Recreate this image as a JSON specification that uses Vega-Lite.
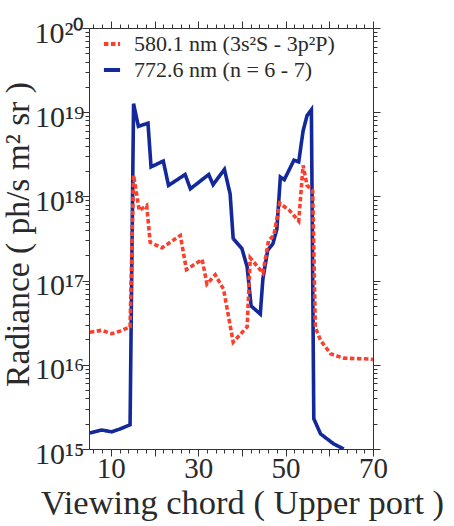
{
  "$schema": "https://vega.github.io/schema/vega-lite/v6.json",
  "width": 284,
  "height": 421,
  "autosize": {"type": "none"},
  "padding": {"left": 89, "top": 28, "right": 81, "bottom": 77},
  "background": "white",
  "data": {
    "values": [
      {"line": "772.6 nm (n = 6 - 7)", "chord": 5.2, "radiance": 1.55e15},
      {"line": "772.6 nm (n = 6 - 7)", "chord": 7.9, "radiance": 1.68e15},
      {"line": "772.6 nm (n = 6 - 7)", "chord": 10.2, "radiance": 1.6e15},
      {"line": "772.6 nm (n = 6 - 7)", "chord": 12.1, "radiance": 1.73e15},
      {"line": "772.6 nm (n = 6 - 7)", "chord": 14.4, "radiance": 1.94e15},
      {"line": "772.6 nm (n = 6 - 7)", "chord": 15.2, "radiance": 1.26e19},
      {"line": "772.6 nm (n = 6 - 7)", "chord": 16.3, "radiance": 6.8e18},
      {"line": "772.6 nm (n = 6 - 7)", "chord": 18.5, "radiance": 7.4e18},
      {"line": "772.6 nm (n = 6 - 7)", "chord": 19.2, "radiance": 2.24e18},
      {"line": "772.6 nm (n = 6 - 7)", "chord": 22.0, "radiance": 2.63e18},
      {"line": "772.6 nm (n = 6 - 7)", "chord": 23.2, "radiance": 1.35e18},
      {"line": "772.6 nm (n = 6 - 7)", "chord": 27.0, "radiance": 1.82e18},
      {"line": "772.6 nm (n = 6 - 7)", "chord": 28.2, "radiance": 1.23e18},
      {"line": "772.6 nm (n = 6 - 7)", "chord": 32.4, "radiance": 1.82e18},
      {"line": "772.6 nm (n = 6 - 7)", "chord": 33.4, "radiance": 1.38e18},
      {"line": "772.6 nm (n = 6 - 7)", "chord": 36.0, "radiance": 2.09e18},
      {"line": "772.6 nm (n = 6 - 7)", "chord": 37.3, "radiance": 1.07e18},
      {"line": "772.6 nm (n = 6 - 7)", "chord": 38.0, "radiance": 3.16e17},
      {"line": "772.6 nm (n = 6 - 7)", "chord": 40.0, "radiance": 2.4e17},
      {"line": "772.6 nm (n = 6 - 7)", "chord": 41.2, "radiance": 1.45e17},
      {"line": "772.6 nm (n = 6 - 7)", "chord": 42.1, "radiance": 5.0e16},
      {"line": "772.6 nm (n = 6 - 7)", "chord": 44.2, "radiance": 4.0e16},
      {"line": "772.6 nm (n = 6 - 7)", "chord": 44.8, "radiance": 1.05e17},
      {"line": "772.6 nm (n = 6 - 7)", "chord": 45.9, "radiance": 2.29e17},
      {"line": "772.6 nm (n = 6 - 7)", "chord": 47.1, "radiance": 2.75e17},
      {"line": "772.6 nm (n = 6 - 7)", "chord": 48.0, "radiance": 4.1e17},
      {"line": "772.6 nm (n = 6 - 7)", "chord": 48.8, "radiance": 1.7e18},
      {"line": "772.6 nm (n = 6 - 7)", "chord": 49.7, "radiance": 1.58e18},
      {"line": "772.6 nm (n = 6 - 7)", "chord": 51.9, "radiance": 2.69e18},
      {"line": "772.6 nm (n = 6 - 7)", "chord": 53.0, "radiance": 2.57e18},
      {"line": "772.6 nm (n = 6 - 7)", "chord": 54.0, "radiance": 6.0e18},
      {"line": "772.6 nm (n = 6 - 7)", "chord": 54.9, "radiance": 9.1e18},
      {"line": "772.6 nm (n = 6 - 7)", "chord": 55.9, "radiance": 1.07e19},
      {"line": "772.6 nm (n = 6 - 7)", "chord": 56.45, "radiance": 2.29e15},
      {"line": "772.6 nm (n = 6 - 7)", "chord": 58.0, "radiance": 1.51e15},
      {"line": "772.6 nm (n = 6 - 7)", "chord": 61.0, "radiance": 1.15e15},
      {"line": "772.6 nm (n = 6 - 7)", "chord": 63.3, "radiance": 1.0e15},
      {"line": "580.1 nm (3s²S - 3p²P)", "chord": 5.2, "radiance": 2.43e16},
      {"line": "580.1 nm (3s²S - 3p²P)", "chord": 7.9, "radiance": 2.57e16},
      {"line": "580.1 nm (3s²S - 3p²P)", "chord": 10.2, "radiance": 2.34e16},
      {"line": "580.1 nm (3s²S - 3p²P)", "chord": 12.1, "radiance": 2.51e16},
      {"line": "580.1 nm (3s²S - 3p²P)", "chord": 14.4, "radiance": 2.82e16},
      {"line": "580.1 nm (3s²S - 3p²P)", "chord": 15.2, "radiance": 1.78e18},
      {"line": "580.1 nm (3s²S - 3p²P)", "chord": 15.9, "radiance": 1.07e18},
      {"line": "580.1 nm (3s²S - 3p²P)", "chord": 16.5, "radiance": 6.8e17},
      {"line": "580.1 nm (3s²S - 3p²P)", "chord": 18.2, "radiance": 7.8e17},
      {"line": "580.1 nm (3s²S - 3p²P)", "chord": 19.0, "radiance": 2.85e17},
      {"line": "580.1 nm (3s²S - 3p²P)", "chord": 21.7, "radiance": 2.45e17},
      {"line": "580.1 nm (3s²S - 3p²P)", "chord": 25.9, "radiance": 3.43e17},
      {"line": "580.1 nm (3s²S - 3p²P)", "chord": 27.3, "radiance": 1.35e17},
      {"line": "580.1 nm (3s²S - 3p²P)", "chord": 30.9, "radiance": 1.78e17},
      {"line": "580.1 nm (3s²S - 3p²P)", "chord": 32.0, "radiance": 9.1e16},
      {"line": "580.1 nm (3s²S - 3p²P)", "chord": 33.9, "radiance": 1.17e17},
      {"line": "580.1 nm (3s²S - 3p²P)", "chord": 35.8, "radiance": 7.9e16},
      {"line": "580.1 nm (3s²S - 3p²P)", "chord": 38.0, "radiance": 1.86e16},
      {"line": "580.1 nm (3s²S - 3p²P)", "chord": 41.2, "radiance": 2.82e16},
      {"line": "580.1 nm (3s²S - 3p²P)", "chord": 41.9, "radiance": 1.86e17},
      {"line": "580.1 nm (3s²S - 3p²P)", "chord": 44.8, "radiance": 1.23e17},
      {"line": "580.1 nm (3s²S - 3p²P)", "chord": 46.1, "radiance": 3.0e17},
      {"line": "580.1 nm (3s²S - 3p²P)", "chord": 47.3, "radiance": 3.43e17},
      {"line": "580.1 nm (3s²S - 3p²P)", "chord": 48.65, "radiance": 8.3e17},
      {"line": "580.1 nm (3s²S - 3p²P)", "chord": 50.9, "radiance": 6.8e17},
      {"line": "580.1 nm (3s²S - 3p²P)", "chord": 53.0, "radiance": 5.1e17},
      {"line": "580.1 nm (3s²S - 3p²P)", "chord": 54.0, "radiance": 2.34e18},
      {"line": "580.1 nm (3s²S - 3p²P)", "chord": 54.9, "radiance": 1.35e18},
      {"line": "580.1 nm (3s²S - 3p²P)", "chord": 56.2, "radiance": 1.17e18},
      {"line": "580.1 nm (3s²S - 3p²P)", "chord": 56.8, "radiance": 2.79e16},
      {"line": "580.1 nm (3s²S - 3p²P)", "chord": 58.0, "radiance": 1.95e16},
      {"line": "580.1 nm (3s²S - 3p²P)", "chord": 60.3, "radiance": 1.35e16},
      {"line": "580.1 nm (3s²S - 3p²P)", "chord": 63.3, "radiance": 1.2e16},
      {"line": "580.1 nm (3s²S - 3p²P)", "chord": 69.5, "radiance": 1.17e16},
      {"line": "580.1 nm (3s²S - 3p²P)", "chord": 70.0, "radiance": 1.15e16}
    ]
  },
  "layer": [
    {
      "transform": [{"filter": "datum.line === '772.6 nm (n = 6 - 7)'"}],
      "mark": {"type": "line", "strokeWidth": 3.6, "clip": true},
      "encoding": {
        "x": {
          "field": "chord", "type": "quantitative",
          "scale": {"domain": [5, 70], "nice": false, "zero": false},
          "axis": {
            "orient": "top", "title": null, "labels": false, "grid": false,
            "values": [6, 8, 10, 12, 14, 16, 18, 20, 22, 24, 26, 28, 30, 32, 34, 36, 38, 40, 42, 44, 46, 48, 50, 52, 54, 56, 58, 60, 62, 64, 66, 68, 70],
            "tickSize": {"condition": {"test": "datum.value % 10 === 0", "value": 7}, "value": 4}
          }
        },
        "y": {
          "field": "radiance", "type": "quantitative",
          "scale": {"type": "log", "domain": [1e15, 1e20], "nice": false},
          "axis": {
            "orient": "right", "title": null, "labels": false, "grid": false,
            "values": [1e15, 2e15, 3e15, 4e15, 5e15, 6e15, 7e15, 8e15, 9e15, 1e16, 2e16, 3e16, 4e16, 5e16, 6e16, 7e16, 8e16, 9e16, 1e17, 2e17, 3e17, 4e17, 5e17, 6e17, 7e17, 8e17, 9e17, 1e18, 2e18, 3e18, 4e18, 5e18, 6e18, 7e18, 8e18, 9e18, 1e19, 2e19, 3e19, 4e19, 5e19, 6e19, 7e19, 8e19, 9e19, 1e20],
            "tickSize": {"condition": {"test": "abs(log(datum.value)/LN10 - round(log(datum.value)/LN10)) < 0.001", "value": 7}, "value": 4}
          }
        },
        "color": {
          "field": "line", "type": "nominal",
          "scale": {"domain": ["580.1 nm (3s²S - 3p²P)", "772.6 nm (n = 6 - 7)"], "range": ["#f8402e", "#13289a"]},
          "legend": {"title": null}
        },
        "strokeDash": {
          "field": "line", "type": "nominal",
          "scale": {"domain": ["580.1 nm (3s²S - 3p²P)", "772.6 nm (n = 6 - 7)"], "range": [[4.5, 2.5], [1, 0]]},
          "legend": {"title": null}
        }
      }
    },
    {
      "transform": [{"filter": "datum.line === '580.1 nm (3s²S - 3p²P)'"}],
      "mark": {"type": "line", "strokeWidth": 3.6, "clip": true},
      "encoding": {
        "x": {
          "field": "chord", "type": "quantitative",
          "scale": {"domain": [5, 70], "nice": false, "zero": false},
          "axis": {
            "orient": "bottom", "grid": false,
            "title": "Viewing chord ( Upper port )",
            "titleFont": "Liberation Serif", "titleFontSize": 34.5, "titleFontWeight": "normal",
            "labelFont": "Liberation Serif", "labelFontSize": 29,
            "titleX": 153, "titleY": 64, "titleAnchor": null, "titleAlign": "center", "titleBaseline": "alphabetic",
            "values": [6, 8, 10, 12, 14, 16, 18, 20, 22, 24, 26, 28, 30, 32, 34, 36, 38, 40, 42, 44, 46, 48, 50, 52, 54, 56, 58, 60, 62, 64, 66, 68, 70],
            "labelExpr": "(datum.value === 10 || datum.value === 30 || datum.value === 50 || datum.value === 70) ? datum.label : ''",
            "labelPadding": -2,
            "tickSize": {"condition": {"test": "datum.value % 10 === 0", "value": 7}, "value": 4}
          }
        },
        "y": {
          "field": "radiance", "type": "quantitative",
          "scale": {"type": "log", "domain": [1e15, 1e20], "nice": false},
          "axis": {
            "orient": "left", "grid": false,
            "title": "Radiance ( ph/s m² sr )",
            "titleFont": "Liberation Serif", "titleFontSize": 33.5, "titleFontWeight": "normal",
            "labelFont": "Liberation Serif", "labelFontSize": 30,
            "titleX": -71, "titleY": 206, "titleAngle": -90, "titleAlign": "center", "titleBaseline": "middle",
            "values": [1e15, 2e15, 3e15, 4e15, 5e15, 6e15, 7e15, 8e15, 9e15, 1e16, 2e16, 3e16, 4e16, 5e16, 6e16, 7e16, 8e16, 9e16, 1e17, 2e17, 3e17, 4e17, 5e17, 6e17, 7e17, 8e17, 9e17, 1e18, 2e18, 3e18, 4e18, 5e18, 6e18, 7e18, 8e18, 9e18, 1e19, 2e19, 3e19, 4e19, 5e19, 6e19, 7e19, 8e19, 9e19, 1e20],
            "labelExpr": "abs(log(datum.value)/LN10 - round(log(datum.value)/LN10)) < 0.001 ? '10' + ['¹⁵','¹⁶','¹⁷','¹⁸','¹⁹','²⁰'][round(log(datum.value)/LN10) - 15] : ''",
            "labelPadding": -2,
            "labelOffset": 5,
            "tickSize": {"condition": {"test": "abs(log(datum.value)/LN10 - round(log(datum.value)/LN10)) < 0.001", "value": 7}, "value": 4}
          }
        },
        "color": {"field": "line", "type": "nominal", "legend": {"title": null}},
        "strokeDash": {"field": "line", "type": "nominal", "legend": {"title": null}}
      }
    }
  ],
  "resolve": {"axis": {"x": "independent", "y": "independent"}},
  "config": {
    "font": "Liberation Serif",
    "view": {"stroke": "#333", "strokeWidth": 1},
    "axis": {
      "domainColor": "#333",
      "domainWidth": 1,
      "tickColor": "#333",
      "tickWidth": 1,
      "labelColor": "#2a2a2a",
      "labelOverlap": false,
      "labelFlush": false,
      "titleColor": "#2a2a2a"
    },
    "legend": {
      "orient": "none",
      "legendX": 12,
      "legendY": 5,
      "padding": 0,
      "labelFont": "Liberation Serif",
      "labelFontSize": 22,
      "labelColor": "#2a2a2a",
      "labelLimit": 400,
      "labelOffset": 11,
      "symbolType": "stroke",
      "symbolSize": 260,
      "symbolStrokeWidth": 4,
      "rowPadding": 4
    }
  }
}
